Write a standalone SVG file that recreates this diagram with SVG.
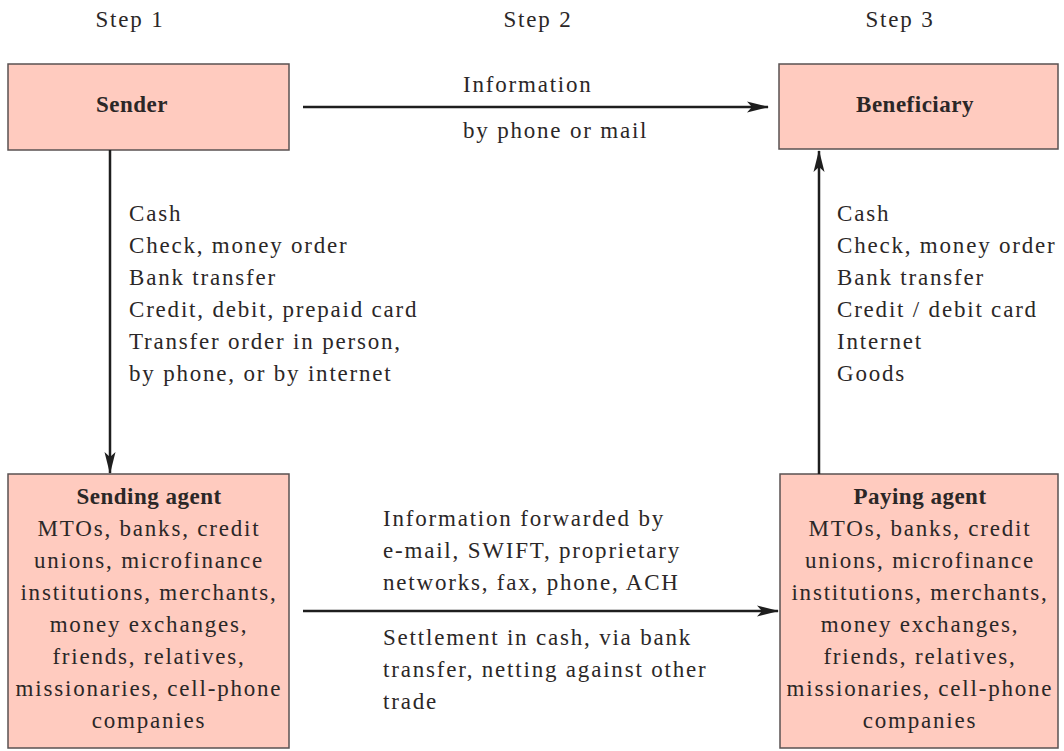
<svg xmlns="http://www.w3.org/2000/svg" width="1064" height="751" viewBox="0 0 1064 751">
<style>
  text { font-family: "Liberation Serif", "Times New Roman", serif; font-size: 23px; fill: #2b2727; letter-spacing: 1.8px; }
  .b { font-weight: bold; letter-spacing: 0.5px; }
  .c { text-anchor: middle; }
  .box { fill: #ffcbbf; stroke: #5a5252; stroke-width: 1.5; }
  .conn { stroke: #1e1e1e; stroke-width: 2.5; fill: none; marker-end: url(#ah); }
</style>
<defs>
  <marker id="ah" markerWidth="22" markerHeight="12" refX="21" refY="6" orient="auto" markerUnits="userSpaceOnUse">
    <path d="M0,0.5 L22,6 L0,11.5 L5,6 Z" fill="#1e1e1e"/>
  </marker>
</defs>
<rect width="1064" height="751" fill="#ffffff"/>

<g id="steps">
  <text class="c" x="130" y="27">Step 1</text>
  <text class="c" x="538" y="27">Step 2</text>
  <text class="c" x="900" y="27">Step 3</text>
</g>

<g id="sender">
  <rect class="box" x="8" y="64" width="281" height="86"/>
  <text class="c b" x="132" y="112">Sender</text>
</g>

<g id="beneficiary">
  <rect class="box" x="779" y="64" width="279" height="85"/>
  <text class="c b" x="915" y="112">Beneficiary</text>
</g>

<g id="sending-agent">
  <rect class="box" x="8" y="474" width="281" height="274"/>
  <text class="c" x="149" y="504"><tspan class="b">Sending agent</tspan></text>
  <text class="c" x="149" y="536">MTOs, banks, credit</text>
  <text class="c" x="149" y="568">unions, microfinance</text>
  <text class="c" x="149" y="600">institutions, merchants,</text>
  <text class="c" x="149" y="632">money exchanges,</text>
  <text class="c" x="149" y="664">friends, relatives,</text>
  <text class="c" x="149" y="696">missionaries, cell-phone</text>
  <text class="c" x="149" y="728">companies</text>
</g>

<g id="paying-agent">
  <rect class="box" x="780" y="474" width="278" height="274"/>
  <text class="c" x="920" y="504"><tspan class="b">Paying agent</tspan></text>
  <text class="c" x="920" y="536">MTOs, banks, credit</text>
  <text class="c" x="920" y="568">unions, microfinance</text>
  <text class="c" x="920" y="600">institutions, merchants,</text>
  <text class="c" x="920" y="632">money exchanges,</text>
  <text class="c" x="920" y="664">friends, relatives,</text>
  <text class="c" x="920" y="696">missionaries, cell-phone</text>
  <text class="c" x="920" y="728">companies</text>
</g>

<g id="connectors">
  <line class="conn" x1="303" y1="107" x2="768" y2="107"/>
  <line class="conn" x1="110" y1="150" x2="110" y2="473"/>
  <line class="conn" x1="303" y1="611" x2="778" y2="611"/>
  <line class="conn" x1="819" y1="474" x2="819" y2="151"/>
</g>

<g id="labels">
  <text x="463" y="92">Information</text>
  <text x="463" y="138">by phone or mail</text>

  <text x="129" y="221">Cash</text>
  <text x="129" y="253">Check, money order</text>
  <text x="129" y="285">Bank transfer</text>
  <text x="129" y="317">Credit, debit, prepaid card</text>
  <text x="129" y="349">Transfer order in person,</text>
  <text x="129" y="381">by phone, or by internet</text>

  <text x="837" y="221">Cash</text>
  <text x="837" y="253">Check, money order</text>
  <text x="837" y="285">Bank transfer</text>
  <text x="837" y="317">Credit / debit card</text>
  <text x="837" y="349">Internet</text>
  <text x="837" y="381">Goods</text>

  <text x="383" y="526">Information forwarded by</text>
  <text x="383" y="558">e-mail, SWIFT, proprietary</text>
  <text x="383" y="590">networks, fax, phone, ACH</text>
  <text x="383" y="645">Settlement in cash, via bank</text>
  <text x="383" y="677">transfer, netting against other</text>
  <text x="383" y="709">trade</text>
</g>
</svg>
